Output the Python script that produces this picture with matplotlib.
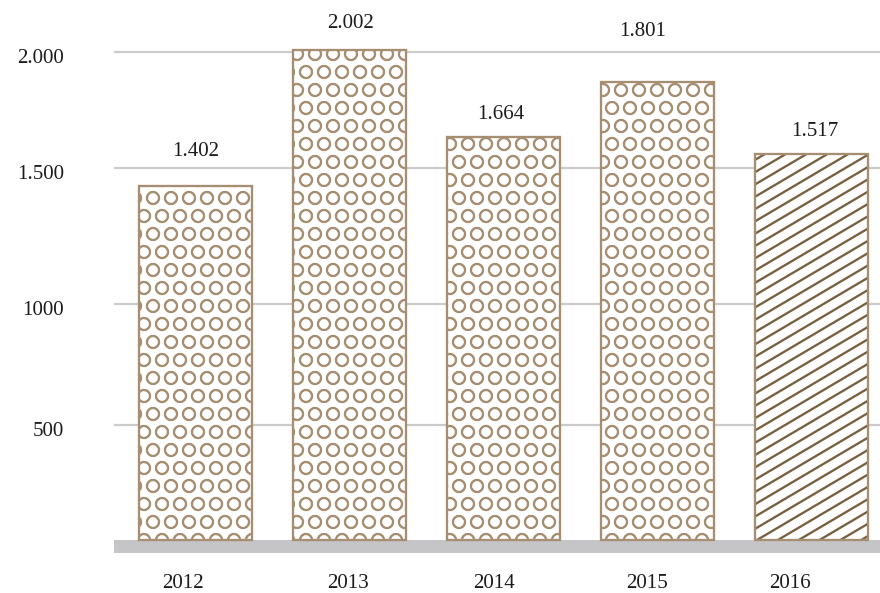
import matplotlib
matplotlib.use("Agg")
import matplotlib.pyplot as plt
import numpy as np
from matplotlib.transforms import IdentityTransform, ScaledTranslation

# data
years = ["2012", "2013", "2014", "2015", "2016"]
bar_heights = [1451, 2008, 1652, 1877, 1582]
value_labels = ["1.402", "2.002", "1.664", "1.801", "1.517"]
grid_levels = [471, 967, 1525, 2000]
grid_labels = ["500", "1000", "1.500", "2.000"]

# styling
DPI = 108
def pt(px):
    return px * 72.0 / DPI

tan = "#a68e72"
dark_brown = "#76603f"
grid_grey = "#cbcbcb"
band_grey = "#c5c5c7"
text_col = "#1c1c1c"
label_dx = [0, 1, -3, -15, 3]        # pixels
label_dy = [34, 27, 22, 50, 22]      # pixels above bar top
year_shift = [-0.08, -0.01, -0.06, -0.07, -0.14]
fs = pt(21)

plt.rcParams["font.family"] = ["Liberation Serif", "DejaVu Serif"]
plt.rcParams["hatch.linewidth"] = pt(1.7)

fig = plt.figure(figsize=(881 / DPI, 593 / DPI), dpi=DPI)
ax = fig.add_axes([114 / 881, 40 / 593, 1 - 114 / 881, 553 / 593])

ax.set_xlim(-0.53, 4.45)
ax.set_ylim(-53, 2213)

for spine in ax.spines.values():
    spine.set_visible(False)

# grid lines and the grey floor
for g in grid_levels:
    ax.axhline(g, color=grid_grey, lw=pt(2.2), zorder=0)
ax.axhspan(-53, 0, color=band_grey, lw=0, zorder=1)

x = np.arange(len(years))
width = 0.73

for i in range(len(years)):
    if i < 4:
        ax.bar(x[i], bar_heights[i], width, color="white", edgecolor=tan,
               hatch="O", linewidth=pt(2.3), zorder=2)
    else:
        ax.bar(x[i], bar_heights[i], width, color="white", edgecolor=tan,
               linewidth=0, zorder=2)
        # shallow diagonal stripes, clipped by hand to the bar
        px0, py0 = ax.transData.transform((x[i] - width / 2, 0))
        px1, py1 = ax.transData.transform((x[i] + width / 2, bar_heights[i]))
        slope = 0.59
        step = 12.3
        start = py0 - slope * (px1 - px0) + 4
        yy = start
        while yy < py1:
            xa = max(px0, px0 + (py0 - yy) / slope)
            xb = min(px1, px0 + (py1 - yy) / slope)
            if xb > xa:
                ax.plot([xa, xb], [yy + slope * (xa - px0), yy + slope * (xb - px0)],
                        transform=IdentityTransform(), color=dark_brown,
                        lw=pt(2.3), solid_capstyle="butt", zorder=2.5)
            yy += step
        ax.bar(x[i], bar_heights[i], width, color="none", edgecolor=tan,
               linewidth=pt(2.3), zorder=3)

# value labels above bars
for i in range(len(years)):
    ax.annotate(value_labels[i], (x[i], bar_heights[i]),
                xytext=(label_dx[i], label_dy[i]), textcoords="offset pixels",
                ha="center", va="center", fontsize=fs, color=text_col)

ax.set_yticks(grid_levels)
ax.set_yticklabels(grid_labels, fontsize=fs, color=text_col)
ax.tick_params(axis="y", length=0, pad=pt(50))
shift = ScaledTranslation(0, -4 / DPI, fig.dpi_scale_trans)
for lab in ax.get_yticklabels():
    lab.set_transform(lab.get_transform() + shift)

ax.set_xticks(x + np.array(year_shift))
ax.set_xticklabels(years, fontsize=fs, color=text_col)
ax.tick_params(axis="x", length=0, pad=pt(21))

fig.savefig("out.png", dpi=DPI)
